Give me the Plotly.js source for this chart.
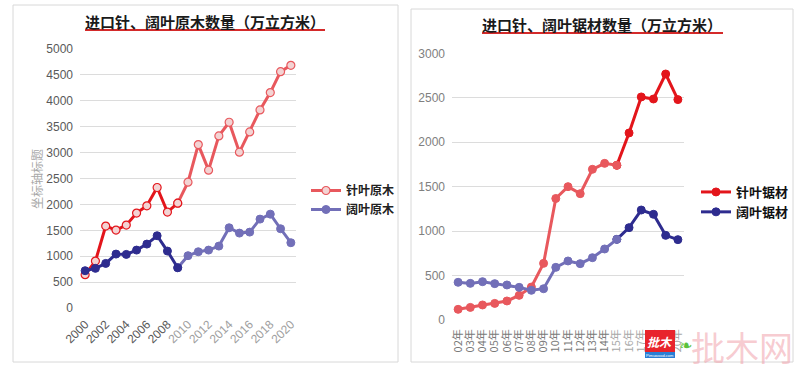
<!DOCTYPE html>
<html>
<head>
<meta charset="utf-8">
<script src="https://cdn.plot.ly/plotly-3.0.1.min.js"></script>
<style>
  html, body { margin: 0; padding: 0; background: #ffffff; }
  #chart { width: 808px; height: 377px; }
</style>
</head>
<body>
<div id="chart"></div>
<script>
// ---------- data ----------
const logYears = [2000, 2001, 2002, 2003, 2004, 2005, 2006, 2007, 2008, 2009, 2010,
                  2011, 2012, 2013, 2014, 2015, 2016, 2017, 2018, 2019, 2020];
const coniferLogs = [643, 906, 1581, 1504, 1600, 1832, 1973, 2326, 1851, 2024, 2429,
                     3155, 2661, 3322, 3586, 3008, 3400, 3824, 4158, 4563, 4685];
const broadleafLogs = [720, 765, 861, 1041, 1035, 1118, 1234, 1395, 1099, 778, 1010,
                       1086, 1118, 1195, 1549, 1446, 1465, 1716, 1812, 1530, 1260];
const logTickYears = [2000, 2002, 2004, 2006, 2008, 2010, 2012, 2014, 2016, 2018, 2020];

const lumberYears = ['02年', '03年', '04年', '05年', '06年', '07年', '08年', '09年', '10年', '11年',
                     '12年', '13年', '14年', '15年', '16年', '17年', '18年', '19年', '20年'];
const coniferLumber = [120, 142, 169, 187, 214, 277, 371, 637, 1367, 1500,
                       1421, 1695, 1762, 1740, 2104, 2509, 2486, 2767, 2479];
const broadleafLumber = [424, 412, 431, 409, 394, 367, 334, 352, 592, 664,
                         634, 701, 799, 907, 1039, 1237, 1189, 952, 904];

const leftTitle = '进口针、阔叶原木数量（万立方米）';
const rightTitle = '进口针、阔叶锯材数量（万立方米）';
const leftYTitle = '坐标轴标题';
const names = ['针叶原木', '阔叶原木', '针叶锯材', '阔叶锯材'];

// ---------- helpers ----------
const W = 808, H = 377;
const px = x => x / W;
const py = y => 1 - y / H;
const FONT = '"Liberation Sans", Arial, sans-serif';
const CJK = '"Noto Sans CJK SC", "Noto Sans", sans-serif';

function seg(xs, ys, a, b) { return { x: xs.slice(a, b + 1), y: ys.slice(a, b + 1) }; }

function line(xs, ys, a, b, color, opts) {
  const s = seg(xs, ys, a, b);
  return Object.assign({
    type: 'scatter', mode: 'lines+markers', x: s.x, y: s.y,
    line: { color: color, width: 3 },
    marker: { color: color, size: 8, line: { color: color, width: 1 } },
    hoverinfo: 'x+y', showlegend: false
  }, opts || {});
}

const redBright = '#e3151b', redLight = '#e8585d';
const blueDark = '#2e2c8f', blueLight = '#726fb8';
const pinkFill = '#f3d3d3';

const traces = [
  // left: conifer logs
  line(logYears, coniferLogs, 9, 20, redLight, {
    name: names[0], showlegend: true, legend: 'legend',
    marker: { color: pinkFill, size: 8, line: { color: redLight, width: 1.2 } }
  }),
  line(logYears, coniferLogs, 0, 9, redBright, {
    marker: { color: pinkFill, size: 8, line: { color: redBright, width: 1.2 } }
  }),
  // left: broadleaf logs
  line(logYears, broadleafLogs, 9, 20, blueLight, { name: names[1], showlegend: true, legend: 'legend' }),
  line(logYears, broadleafLogs, 0, 9, blueDark),
  // right: conifer lumber
  line(lumberYears, coniferLumber, 13, 18, redBright, {
    xaxis: 'x2', yaxis: 'y2', name: names[2], showlegend: true, legend: 'legend2'
  }),
  line(lumberYears, coniferLumber, 0, 13, redLight, { xaxis: 'x2', yaxis: 'y2' }),
  // right: broadleaf lumber
  line(lumberYears, broadleafLumber, 13, 18, blueDark, {
    xaxis: 'x2', yaxis: 'y2', name: names[3], showlegend: true, legend: 'legend2'
  }),
  line(lumberYears, broadleafLumber, 0, 13, blueLight, { xaxis: 'x2', yaxis: 'y2' })
];

const leftTickText = logTickYears.map(y =>
  '<span style="color:' + (y >= 2010 ? '#a0a0a0' : '#595959') + '">' + y + '</span>');
const rightTickText = lumberYears.map((t, i) =>
  '<span style="color:' + (i >= 13 ? '#a8a8a8' : '#7a7a7a') + '">' + t + '</span>');

const layout = {
  width: W, height: H,
  margin: { l: 0, r: 0, t: 0, b: 0 },
  paper_bgcolor: '#ffffff', plot_bgcolor: 'rgba(0,0,0,0)',
  font: { family: FONT, size: 12, color: '#595959' },
  showlegend: true,
  xaxis: {
    domain: [px(80), px(296)], anchor: 'y',
    type: 'linear', range: [1999.5, 2020.5],
    tickvals: logTickYears, ticktext: leftTickText, tickangle: -45,
    showgrid: false, zeroline: false, showline: false, ticks: '',
    ticklabelstandoff: 6,
    tickfont: { family: FONT, size: 12, color: '#595959' }
  },
  yaxis: {
    domain: [py(308), py(49)], anchor: 'x',
    range: [0, 5000], dtick: 500, tick0: 0,
    showgrid: true, gridcolor: '#dcdcdc', gridwidth: 1,
    zeroline: false, showline: false, ticks: '',
    ticklabelstandoff: 6,
    tickfont: { family: FONT, size: 12, color: '#595959' }
  },
  xaxis2: {
    domain: [px(452), px(684)], anchor: 'y2',
    type: 'category', categoryorder: 'array', categoryarray: lumberYears,
    range: [-0.5, 18.5],
    tickvals: lumberYears, ticktext: rightTickText, tickangle: -90,
    showgrid: false, zeroline: false, showline: false, ticks: '',
    ticklabelstandoff: 6,
    tickfont: { family: CJK, size: 11, color: '#7a7a7a' }
  },
  yaxis2: {
    domain: [py(320), py(53.3)], anchor: 'x2',
    range: [0, 3000], dtick: 500, tick0: 0,
    showgrid: true, gridcolor: '#dcdcdc', gridwidth: 1,
    zeroline: false, showline: false, ticks: '',
    ticklabelstandoff: 6,
    tickfont: { family: FONT, size: 12, color: '#808080' }
  },
  legend: {
    x: px(306), y: py(176), xanchor: 'left', yanchor: 'top',
    bgcolor: 'rgba(0,0,0,0)', borderwidth: 0,
    font: { family: CJK, size: 12, color: '#222222', weight: 'bold' },
    itemwidth: 30, tracegroupgap: 0
  },
  legend2: {
    x: px(696), y: py(177), xanchor: 'left', yanchor: 'top',
    bgcolor: 'rgba(0,0,0,0)', borderwidth: 0,
    font: { family: CJK, size: 13, color: '#111111', weight: 'bold' },
    itemwidth: 30, tracegroupgap: 0
  },
  shapes: [
    // panel borders
    { type: 'rect', xref: 'paper', yref: 'paper', x0: px(13), x1: px(398), y0: py(362), y1: py(5),
      line: { color: '#d8d8d8', width: 1 }, layer: 'below' },
    { type: 'rect', xref: 'paper', yref: 'paper', x0: px(411), x1: px(793), y0: py(362), y1: py(9),
      line: { color: '#d8d8d8', width: 1 }, layer: 'below' },
    // title underlines
    { type: 'line', xref: 'paper', yref: 'paper', x0: px(85), x1: px(325), y0: py(30), y1: py(30),
      line: { color: '#d42a2a', width: 2 } },
    { type: 'line', xref: 'paper', yref: 'paper', x0: px(482), x1: px(723), y0: py(33), y1: py(33),
      line: { color: '#d42a2a', width: 2 } },
    // watermark logo box
    { type: 'rect', xref: 'paper', yref: 'paper', x0: px(645), x1: px(675), y0: py(358), y1: py(330),
      fillcolor: '#e8242c', line: { width: 0 } },
    { type: 'rect', xref: 'paper', yref: 'paper', x0: px(645), x1: px(675), y0: py(358), y1: py(352),
      fillcolor: '#2a7fd6', line: { width: 0 } }
  ],
  annotations: [
    { xref: 'paper', yref: 'paper', x: px(205), y: py(22), text: '<b>' + leftTitle + '</b>',
      showarrow: false, xanchor: 'center', yanchor: 'middle',
      font: { family: CJK, size: 15, color: '#1a1a1a' } },
    { xref: 'paper', yref: 'paper', x: px(602), y: py(25), text: '<b>' + rightTitle + '</b>',
      showarrow: false, xanchor: 'center', yanchor: 'middle',
      font: { family: CJK, size: 15, color: '#1a1a1a' } },
    { xref: 'paper', yref: 'paper', x: px(36), y: py(179), text: leftYTitle, textangle: -90,
      showarrow: false, xanchor: 'center', yanchor: 'middle',
      font: { family: CJK, size: 12, color: '#a8a8a8' } },
    // watermark
    { xref: 'paper', yref: 'paper', x: px(660), y: py(341), text: '<b><i>批木</i></b>',
      showarrow: false, xanchor: 'center', yanchor: 'middle',
      font: { family: CJK, size: 12, color: '#ffffff' } },
    { xref: 'paper', yref: 'paper', x: px(660), y: py(355), text: 'Pimuwood.com',
      showarrow: false, xanchor: 'center', yanchor: 'middle',
      font: { family: FONT, size: 4, color: '#ffffff' } },
    { xref: 'paper', yref: 'paper', x: px(742), y: py(346), text: '批木网',
      showarrow: false, xanchor: 'center', yanchor: 'middle',
      font: { family: CJK, size: 34, color: 'rgba(240,160,170,0.55)' } },
    { xref: 'paper', yref: 'paper', x: px(685), y: py(345), text: '❧',
      showarrow: false, xanchor: 'center', yanchor: 'middle',
      font: { family: '"DejaVu Sans", sans-serif', size: 16, color: '#5cc23a' } }
  ]
};

Plotly.newPlot('chart', traces, layout, { displayModeBar: false, staticPlot: true });
</script>
</body>
</html>
